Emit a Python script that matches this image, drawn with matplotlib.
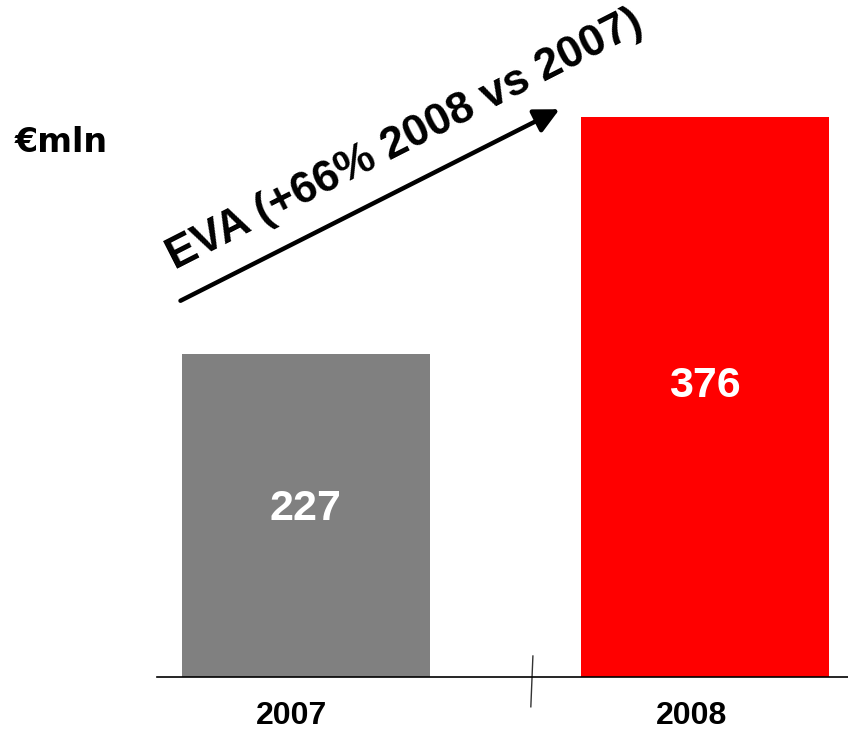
import matplotlib
matplotlib.use("Agg")
import matplotlib.pyplot as plt

# data
years = ["2007", "2008"]
values = [227, 376]
colors = ["#808080", "#ff0000"]
title = "EVA (+66% 2008 vs 2007)"
unit = "€mln"

plt.rcParams['font.family'] = ['Liberation Sans', 'DejaVu Sans']

fig = plt.figure(figsize=(8.48, 7.35), dpi=100)
ax = fig.add_axes([157/848, 58/735, 691/848, 677/735])

x = list(range(len(years)))
ax.bar(x, values, width=0.62, color=colors)

# axis starts above zero (broken axis)
ybase = 24
ax.set_ylim(ybase, ybase + 677/1.5906)
ax.set_xlim(-0.373, 1.358)

for xi, v in zip(x, values):
    ax.text(xi, ybase + 0.52*(v - ybase), str(v), ha='center', va='center',
            color='white', fontsize=31, fontweight='bold')
    ax.text(xi - 0.035, -0.0576, years[xi], ha='center', va='center',
            transform=ax.get_xaxis_transform(), fontsize=23, fontweight='bold')

ax.set_xticks([])
ax.set_yticks([])
for s in ['top', 'right', 'left']:
    ax.spines[s].set_visible(False)
ax.spines['bottom'].set_linewidth(1.2)

# axis break mark
ax.plot([0.544, 0.541], [0.031, -0.044], color='#333333', lw=1,
        transform=ax.transAxes, clip_on=False)

# unit label
fig.text(15/848, 1 - 143/735, unit, ha='left', va='center', fontsize=24,
         fontweight='bold', family='DejaVu Sans')

# growth arrow and label
fig.add_artist(matplotlib.patches.FancyArrowPatch(
    (178/848, 1 - 302/735), (562/848, 1 - 108/735), transform=fig.transFigure,
    arrowstyle='-|>,head_length=10,head_width=5', lw=3.2, color='black',
    mutation_scale=1.5))
fig.text(405/848, 1 - 140/735, title, ha='center', va='center', rotation=27,
         rotation_mode='anchor', fontsize=32, fontweight='bold')

fig.savefig('out.png', dpi=100)
